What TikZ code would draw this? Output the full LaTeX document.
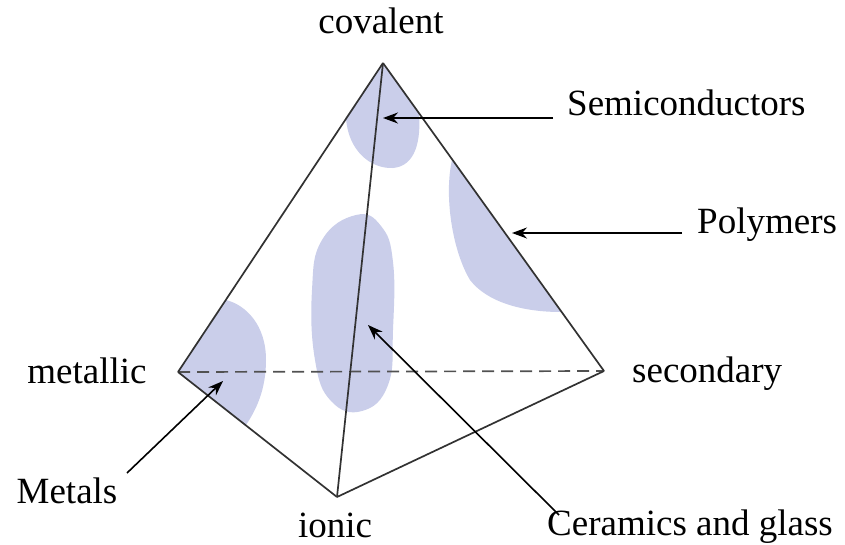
\documentclass[tikz,border=0pt]{standalone}
\usepackage{fontspec}
\setmainfont{Liberation Serif}
\usetikzlibrary{arrows.meta}
\definecolor{blob}{RGB}{202,206,234}
\definecolor{edgegray}{RGB}{50,50,50}
\begin{document}
\begin{tikzpicture}[x=1pt,y=-1pt,
  lbl/.style={inner sep=0pt,font=\fontsize{37}{40}\selectfont,text=black},
  edgeline/.style={draw=edgegray,line width=1.7pt},
  dashedge/.style={draw=edgegray!85,line width=1.7pt,dash pattern=on 12pt off 7pt},
  pointer/.style={draw=black,line width=1.6pt,-{Stealth[length=15pt,width=11pt]}},
  region/.style={fill=blob,draw=none}]
\useasboundingbox (0,0) rectangle (845,544);
% vertices
\coordinate (A) at (383,63);
\coordinate (M) at (178,372);
\coordinate (S) at (604,371);
\coordinate (I) at (337,497);
% regions
\path[region] (383,63) -- (346,118) .. controls (348,150) and (370,169) .. (393,168)
  .. controls (416,166) and (421,140) .. (419,113) -- cycle;
\path[region] (452,160) .. controls (444,195) and (452,250) .. (470,280)
  .. controls (487,302) and (522,312) .. (561,312) -- cycle;
\path[region] plot[smooth cycle,tension=0.75] coordinates {(356,215) (381,226) (393,262) (393,330) (388,385) (362,411) (331,401) (315,360) (312,290) (322,240)};
\path[region] (226,300) .. controls (246,305) and (266,325) .. (266,360)
  .. controls (266,390) and (256,410) .. (246,425) -- (178,372) -- cycle;
% edges
\draw[dashedge] (M) -- (S);
\draw[edgeline] (A) -- (M);
\draw[edgeline] (A) -- (S);
\draw[edgeline] (A) -- (I);
\draw[edgeline] (M) -- (I);
\draw[edgeline] (I) -- (S);
% labels
\node[lbl,anchor=base] (cov) at (381,33) {covalent};
\node[lbl,anchor=base west] (semi) at (567,115) {Semiconductors};
\node[lbl,anchor=base west] (poly) at (697,233) {Polymers};
\node[lbl,anchor=base] (met) at (87,383) {metallic};
\node[lbl,anchor=base west] (sec) at (632,382) {secondary};
\node[lbl,anchor=base] (metals) at (67,503) {Metals};
\node[lbl,anchor=base] (ion) at (335,537) {ionic};
\node[lbl,anchor=base west] (cer) at (547,535) {Ceramics and glass};
% arrow targets / tails
\coordinate (semiT) at (383,118);
\coordinate (semiS) at (553,118);
\coordinate (polyT) at (512,233);
\coordinate (polyS) at (682,233);
\coordinate (metT) at (223,381);
\coordinate (metS) at (127,473);
\coordinate (cerT) at (368,325);
\coordinate (cerS) at (559,515);
\draw[pointer] (semiS) -- (semiT);
\draw[pointer] (polyS) -- (polyT);
\draw[pointer] (metS) -- (metT);
\draw[pointer] (cerS) -- (cerT);
\end{tikzpicture}
\end{document}
